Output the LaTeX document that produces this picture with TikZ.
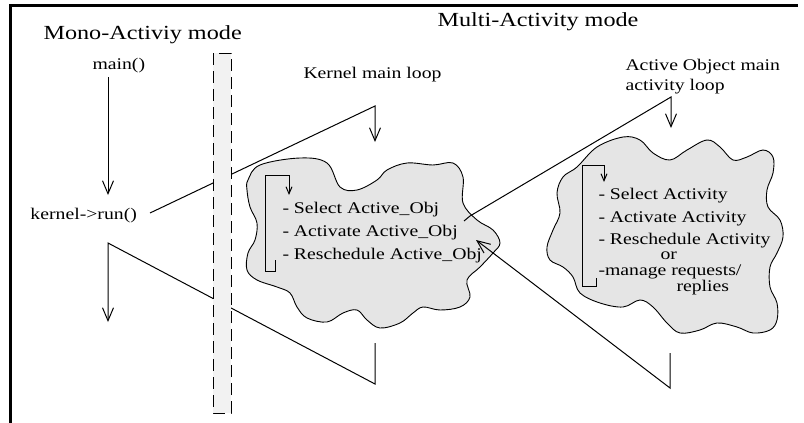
\documentclass[tikz,border=0pt]{standalone}
\usepackage{fontspec}
\setmainfont{Liberation Serif}[FakeStretch=1.21]
\usetikzlibrary{arrows.meta}

\begin{document}
\begin{tikzpicture}[x=1pt,y=-1pt,line width=1pt,
        txt/.style={font=\fontsize{16.3}{23}\selectfont,inner sep=0pt},
        title/.style={font=\fontsize{20}{25}\selectfont,inner sep=0pt},
        arr/.style={-{Straight Barb[length=13pt,width=11pt]}},
        sarr/.style={-{Straight Barb[length=7pt,width=6pt]}},
        blob/.style={draw,fill=black!10,line width=0.9pt}]
    \useasboundingbox (0,0) rectangle (804,423);
    % frame
    \draw[line width=3pt] (10,423) -- (10,5) -- (798,5);

    % titles and labels
    \node[title,anchor=base west] (mono) at (43,39) {Mono-Activiy mode};
    \node[title,anchor=base west] (multi) at (437,27) {Multi-Activity mode};
    \node[txt,anchor=base west] (main) at (92,69) {main()};
    \node[txt,anchor=base west] (run) at (30,219) {kernel->run()};
    \node[txt,anchor=base west] (klabel) at (303,78) {Kernel main loop};
    % multi-line nodes: base is the last line
    \node[txt,anchor=base west,align=left,font=\fontsize{16.3}{20}\selectfont] (olabel) at (625,90)
        {Active Object main\\activity loop};

    % connector points
    \coordinate (mtop) at (108,77);
    \coordinate (mtip) at (108,195);
    \coordinate (runout) at (150,213);
    \coordinate (kcorner) at (375,106);
    \coordinate (kin) at (375,142);
    \coordinate (kout) at (375,343);
    \coordinate (kbottom) at (375,384);
    \coordinate (rcorner) at (108,243);
    \coordinate (rtip) at (108,322);
    \coordinate (ostart) at (464,221);
    \coordinate (ohook) at (470,216);
    \coordinate (ocorner) at (671,97);
    \coordinate (oin) at (671,128);
    \coordinate (oout) at (670,353);
    \coordinate (obottom) at (670,388);
    \coordinate (kret) at (476,240);

    % mono-activity side
    \draw[arr] (mtop) -- (mtip);
    \draw[arr] (runout) -- (kcorner) -- (kin);
    \draw[arr] (kout) -- (kbottom) -- (rcorner) -- (rtip);

    % separation bar
    \draw[fill=black!5,dash pattern=on 12pt off 6pt] (213,53) rectangle (231,413);

    % kernel loop
    \draw[blob] plot[smooth cycle,tension=0.6] coordinates {
        (248,180) (260,165) (300,158) (327,163) (340,187) (357,190) (377,180)
        (387,170) (407,163) (433,165) (453,163) (463,177) (463,203) (477,220)
        (493,230) (500,243) (493,253) (480,267) (467,280) (470,297) (460,307)
        (440,310) (423,307) (413,313) (400,323) (380,328) (367,320) (357,310)
        (343,313) (327,322) (307,318) (297,307) (290,293) (277,287) (257,280)
        (247,270) (248,253) (255,240) (257,223) (250,207) (247,190)};
    \draw[sarr] (275,260) -- (275,271) -- (265,271) -- (265,175) -- (289,175) -- (289,195);
    \node[txt,anchor=base west,align=left] (ksteps) at (282,259)
        {- Select Active\_Obj\\- Activate Active\_Obj\\- Reschedule Active\_Obj};

    % active object loop
    \draw[blob] plot[smooth cycle,tension=0.6] coordinates {
        (577,167) (597,147) (623,137) (640,140) (653,153) (670,160) (687,150)
        (707,140) (720,147) (733,160) (747,157) (763,150) (773,157) (773,173)
        (767,190) (768,207) (780,220) (783,237) (777,253) (770,267) (770,287)
        (777,303) (777,320) (770,330) (753,333) (737,327) (717,323) (700,330)
        (680,333) (667,323) (653,307) (640,300) (623,307) (600,303) (580,293)
        (573,277) (563,267) (550,260) (547,247) (553,230) (560,213) (557,193)
        (563,177)};
    \draw[sarr] (596,278) -- (596,286) -- (582,286) -- (582,165) -- (604,165) -- (604,182);
    \node[txt,anchor=base west,align=left,font=\fontsize{16.3}{22.5}\selectfont] (osteps) at (598,291)
        {- Select Activity\\- Activate Activity\\- Reschedule Activity\\[-7.5pt]
         \hspace*{62pt}or\\[-7pt]-manage requests/\\[-6.5pt]\hspace*{78pt}replies};

    % multi-activity connectors
    \draw[arr] (ostart) -- (ohook) -- (ocorner) -- (oin);
    \draw[arr] (oout) -- (obottom) -- (kret);
\end{tikzpicture}
\end{document}
